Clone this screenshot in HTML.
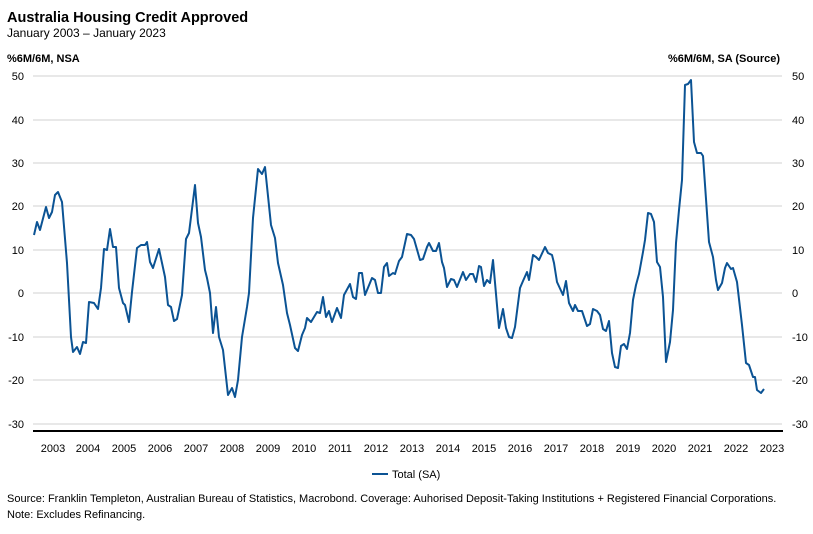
<!DOCTYPE html>
<html><head><style>
body{margin:0;background:#fff;}
svg{display:block;font-family:"Liberation Sans",Arial,sans-serif;}
</style></head><body>
<svg width="813" height="534" viewBox="0 0 813 534" xmlns="http://www.w3.org/2000/svg">
<text x="7" y="22" font-size="14.5" font-weight="bold" fill="#000">Australia Housing Credit Approved</text>
<text x="7" y="37" font-size="12" fill="#000">January 2003 – January 2023</text>
<text x="7" y="62" font-size="11" font-weight="bold" fill="#000">%6M/6M, NSA</text>
<text x="780" y="62" font-size="11" font-weight="bold" fill="#000" text-anchor="end">%6M/6M, SA (Source)</text>
<g stroke="#d9d9d9" stroke-width="1.2">
<line x1="33" x2="782" y1="76" y2="76"/><line x1="33" x2="782" y1="120" y2="120"/>
<line x1="33" x2="782" y1="163" y2="163"/><line x1="33" x2="782" y1="206" y2="206"/>
<line x1="33" x2="782" y1="250" y2="250"/><line x1="33" x2="782" y1="293" y2="293"/>
<line x1="33" x2="782" y1="337" y2="337"/><line x1="33" x2="782" y1="380" y2="380"/>
<line x1="33" x2="782" y1="424" y2="424"/>
</g>
<line x1="33" x2="783" y1="431" y2="431" stroke="#000" stroke-width="2"/>
<g font-size="11" fill="#000" text-anchor="end">
<text x="24" y="80">50</text><text x="24" y="124">40</text><text x="24" y="167">30</text><text x="24" y="210">20</text><text x="24" y="254">10</text><text x="24" y="297">0</text><text x="24" y="341">-10</text><text x="24" y="384">-20</text><text x="24" y="428">-30</text>
</g>
<g font-size="11" fill="#000">
<text x="792" y="80">50</text><text x="792" y="124">40</text><text x="792" y="167">30</text><text x="792" y="210">20</text><text x="792" y="254">10</text><text x="792" y="297">0</text><text x="792" y="341">-10</text><text x="792" y="384">-20</text><text x="792" y="428">-30</text>
</g>
<g font-size="11" fill="#000" text-anchor="middle">
<text x="53" y="452">2003</text><text x="88" y="452">2004</text><text x="124" y="452">2005</text><text x="160" y="452">2006</text><text x="196" y="452">2007</text><text x="232" y="452">2008</text><text x="268" y="452">2009</text><text x="304" y="452">2010</text><text x="340" y="452">2011</text><text x="376" y="452">2012</text><text x="412" y="452">2013</text><text x="448" y="452">2014</text><text x="484" y="452">2015</text><text x="520" y="452">2016</text><text x="556" y="452">2017</text><text x="592" y="452">2018</text><text x="628" y="452">2019</text><text x="664" y="452">2020</text><text x="700" y="452">2021</text><text x="736" y="452">2022</text><text x="772" y="452">2023</text>
</g>
<polyline fill="none" stroke="#0b5394" stroke-width="2" stroke-linejoin="round" points="34,235 37,222 40,230 46,207 49,218 52,212 55,195 58,192 62,202 67,263 71,337 73,352 77,347 80,354 83,342 86,343 89,302 94,303 98,309 101,288 104,249 107,250 110,229 113,247 116,247 119,288 123,303 125,305 129,322 132,292 137,248 141,245 145,245 147,242 150,262 153,268 159,249 165,277 168,305 171,307 174,321 177,319 182,295 186,239 189,233 195,185 198,223 201,237 205,270 207,278 210,293 213,333 216,307 219,337 223,350 228,395 232,388 235,397 238,380 242,337 247,307 249,293 253,218 258,169 262,174 265,167 271,225 275,238 278,263 283,285 287,313 290,325 295,348 298,351 302,335 305,328 307,318 311,322 317,312 320,313 323,297 326,317 329,311 332,322 337,308 341,318 344,295 350,284 353,297 356,299 359,273 362,273 365,295 372,278 375,280 378,293 381,293 384,267 387,263 389,276 393,273 395,274 399,261 402,257 407,234 411,235 414,239 420,260 423,259 427,247 429,243 433,251 436,251 439,243 442,262 444,268 447,287 451,279 454,280 457,287 463,272 466,280 470,274 473,274 476,282 479,266 481,267 484,286 487,280 490,283 493,260 499,328 503,309 506,328 509,337 512,338 515,327 520,288 523,281 527,272 529,280 533,255 536,257 539,260 545,247 548,253 552,255 554,263 557,282 563,295 566,281 569,303 573,311 575,305 578,311 582,311 587,326 590,324 593,309 597,311 600,315 603,329 606,331 609,321 612,353 615,367 618,368 621,346 624,344 627,349 630,333 633,300 636,285 639,274 643,252 645,240 648,213 651,214 654,222 657,262 660,267 663,297 666,362 670,342 673,310 676,243 679,210 682,180 685,85 688,84 691,80 694,142 697,153 701,153 703,156 709,242 713,257 716,280 718,290 722,283 725,268 727,263 731,269 733,268 737,282 742,325 746,363 749,365 753,377 755,377 757,390 761,393 764,389"/>
<line x1="372" x2="388" y1="474" y2="474" stroke="#0b5394" stroke-width="2"/>
<text x="392" y="478" font-size="11" fill="#000">Total (SA)</text>
<text x="7" y="502" font-size="11" fill="#000">Source: Franklin Templeton, Australian Bureau of Statistics, Macrobond. Coverage: Auhorised Deposit-Taking Institutions + Registered Financial Corporations.</text>
<text x="7" y="518" font-size="11" fill="#000">Note: Excludes Refinancing.</text>
</svg>
</body></html>
